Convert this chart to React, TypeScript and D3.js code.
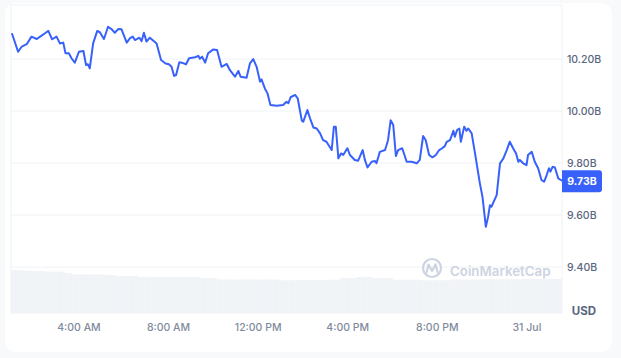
import React from "react";
import * as d3 from "d3";

// ---- data ----
const priceTimes: string[] = ["30 01:01","30 01:17","30 01:27","30 01:40","30 01:53","30 02:07","30 02:20","30 02:29","30 02:38","30 02:48","30 03:00","30 03:09","30 03:18","30 03:24","30 03:33","30 03:40","30 03:49","30 04:00","30 04:12","30 04:19","30 04:24","30 04:29","30 04:38","30 04:49","30 04:56","30 05:07","30 05:18","30 05:28","30 05:36","30 05:45","30 05:54","30 06:08","30 06:17","30 06:24","30 06:30","30 06:42","30 06:48","30 06:54","30 07:01","30 07:10","30 07:28","30 07:40","30 07:52","30 08:01","30 08:08","30 08:15","30 08:20","30 08:29","30 08:35","30 08:47","30 08:55","30 09:11","30 09:20","30 09:24","30 09:30","30 09:38","30 09:46","30 10:00","30 10:10","30 10:22","30 10:36","30 10:44","30 10:58","30 11:07","30 11:13","30 11:29","30 11:38","30 11:47","30 11:56","30 12:05","30 12:09","30 12:18","30 12:25","30 12:33","30 12:50","30 13:07","30 13:16","30 13:21","30 13:27","30 13:39","30 13:46","30 13:57","30 14:01","30 14:12","30 14:19","30 14:28","30 14:37","30 14:46","30 14:54","30 15:03","30 15:17","30 15:23","30 15:28","30 15:35","30 15:42","30 15:48","30 15:59","30 16:06","30 16:19","30 16:28","30 16:40","30 16:46","30 16:53","30 17:04","30 17:13","30 17:17","30 17:26","30 17:40","30 17:48","30 17:55","30 18:02","30 18:09","30 18:15","30 18:26","30 18:38","30 18:51","30 19:05","30 19:13","30 19:22","30 19:29","30 19:38","30 19:47","30 19:56","30 20:05","30 20:12","30 20:20","30 20:25","30 20:34","30 20:43","30 20:47","30 20:53","30 20:59","30 21:03","30 21:12","30 21:18","30 21:23","30 21:32","30 21:41","30 21:54","30 22:01","30 22:05","30 22:10","30 22:16","30 22:21","30 22:25","30 22:39","30 22:48","30 22:57","30 23:06","30 23:14","30 23:23","30 23:31","30 23:37","30 23:41","30 23:50","30 23:59","31 00:03","31 00:13","31 00:21","31 00:30","31 00:39","31 00:46","31 00:53","31 00:59","31 01:03","31 01:09","31 01:15","31 01:24","31 01:33"];

const priceValues: number[] = [10.296,10.228,10.248,10.257,10.286,10.277,10.290,10.299,10.308,10.276,10.286,10.260,10.263,10.222,10.222,10.203,10.186,10.228,10.231,10.177,10.180,10.164,10.260,10.308,10.303,10.277,10.324,10.314,10.301,10.315,10.314,10.263,10.280,10.286,10.273,10.282,10.269,10.301,10.267,10.282,10.260,10.196,10.183,10.180,10.170,10.135,10.138,10.188,10.186,10.180,10.203,10.207,10.212,10.201,10.209,10.186,10.222,10.237,10.235,10.170,10.181,10.158,10.132,10.154,10.132,10.128,10.183,10.200,10.170,10.113,10.122,10.087,10.068,10.023,10.020,10.023,10.036,10.030,10.053,10.062,10.049,9.963,9.959,10.004,9.972,9.937,9.933,9.914,9.888,9.882,9.850,9.940,9.940,9.818,9.837,9.831,9.857,9.831,9.812,9.809,9.850,9.812,9.783,9.805,9.808,9.799,9.843,9.850,9.888,9.965,9.946,9.827,9.850,9.857,9.805,9.805,9.799,9.812,9.904,9.888,9.831,9.822,9.831,9.850,9.856,9.865,9.881,9.888,9.924,9.901,9.927,9.933,9.882,9.940,9.924,9.933,9.914,9.837,9.722,9.670,9.619,9.555,9.593,9.638,9.632,9.677,9.799,9.818,9.850,9.882,9.857,9.837,9.805,9.812,9.799,9.792,9.831,9.843,9.805,9.780,9.735,9.728,9.754,9.780,9.767,9.786,9.783,9.741,9.733];

const volumeTimes: string[] = ["30 00:58","30 01:35","30 02:29","30 03:22","30 03:41","30 05:10","30 05:37","30 06:38","30 07:37","30 09:24","30 10:10","30 11:38","30 12:58","30 13:52","30 14:53","30 15:39","30 16:25","30 17:07","30 18:01","30 19:13","30 20:34","30 21:54","30 23:41","31 01:28"];
const volumeValues: number[] = [432,425,420,405,390,385,375,365,365,355,340,340,332,335,338,355,365,355,338,332,340,342,345,348];

const yTicks: number[] = [9.4, 9.6, 9.8, 10.0, 10.2];
const xTickTimes: string[] = ["30 04:00","30 08:00","30 12:00","30 16:00","30 20:00","31 00:00"];
const xTickLabels: string[] = ["4:00 AM","8:00 AM","12:00 PM","4:00 PM","8:00 PM","31 Jul"];
const domainStart = "30 00:58";
const domainEnd = "31 01:34";
const currentValue = 9.73;

const W = 621, H = 358;
const plot = { left: 11, right: 562, top: 5, bottom: 313 };
const BLUE = "#3861fb";
const FONT = "Inter, 'Noto Sans', sans-serif";

const parse = d3.timeParse("%d %H:%M");

export default function App() {
  const x = d3.scaleTime()
    .domain([parse(domainStart)!, parse(domainEnd)!])
    .range([plot.left, plot.right]);
  const y = d3.scaleLinear().domain([9.2235, 10.4077]).range([plot.bottom, plot.top]);
  const yVol = d3.scaleLinear().domain([0, 1000]).range([313.5, 213.5]);

  const n = Math.min(priceTimes.length, priceValues.length);
  const pts = d3.range(n).map(i => ({ t: parse(priceTimes[i])!, v: priceValues[i] }));
  const line = d3.line<{ t: Date; v: number }>().x(d => x(d.t)).y(d => y(d.v));

  const vpts = volumeTimes.map((s, i) => ({ t: parse(s)!, v: volumeValues[i] }));
  vpts.push({ t: parse(domainEnd)!, v: volumeValues[volumeValues.length - 1] });
  const area = d3.area<{ t: Date; v: number }>()
    .x(d => Math.min(plot.right, Math.max(plot.left, x(d.t))))
    .y0(yVol(0)).y1(d => yVol(d.v)).curve(d3.curveStepAfter);

  const cy = y(currentValue);

  return (
    <svg width={W} height={H} style={{ position: "absolute", left: 0, top: 0 }} fontFamily={FONT}>
      <defs>
        <pattern id="stripes" patternUnits="userSpaceOnUse" width={1.8} height={10}>
          <rect x={0} y={0} width={0.5} height={10} fill="#ffffff" opacity={0.55} />
        </pattern>
        <clipPath id="plotclip">
          <rect x={plot.left} y={plot.top} width={plot.right - plot.left} height={plot.bottom - plot.top} />
        </clipPath>
      </defs>
      <rect x={0} y={0} width={W} height={H} fill="#f8f9fb" />
      <rect x={5} y={3} width={607} height={349} rx={11} fill="#ffffff" />

      {/* grid */}
      {yTicks.map(t => (
        <line key={t} x1={plot.left} x2={plot.right} y1={y(t)} y2={y(t)} stroke="#eff2f5" strokeWidth={1} />
      ))}
      <rect x={plot.left} y={plot.top} width={plot.right - plot.left} height={plot.bottom - plot.top}
        fill="none" stroke="#eff2f5" strokeWidth={1} />

      {/* volume */}
      <g clipPath="url(#plotclip)">
        <path d={area(vpts) || ""} fill="#eef1f5" />
        <path d={area(vpts) || ""} fill="url(#stripes)" />
      </g>

      {/* watermark */}
      <g>
        <circle cx={432} cy={268} r={9} fill="none" stroke="#cdd4e1" strokeWidth={2.2} />
        <path d="M426.5,272.5 L428.5,264.5 L432,271 L435.5,264.5 L437.5,272" fill="none" stroke="#cdd4e1" strokeWidth={2.2} strokeLinejoin="round" strokeLinecap="round" />
        <text x={450} y={271} dominantBaseline="central" fontSize={13.3} fontWeight={600} fill="#cdd4e1">CoinMarketCap</text>
      </g>

      {/* price line */}
      <path d={line(pts) || ""} fill="none" stroke={BLUE} strokeWidth={2} strokeLinejoin="round" strokeLinecap="round" />

      {/* y labels */}
      {yTicks.map(t => (
        <text key={t} x={567} y={y(t)} dominantBaseline="central" fontSize={10.5} fontWeight={500} fill="#58667e">
          {t.toFixed(2)}B
        </text>
      ))}

      {/* current value badge */}
      <path d={`M${plot.right},${cy - 11} H${602 - 3} a3,3 0 0 1 3,3 V${cy + 8} a3,3 0 0 1 -3,3 H${plot.right} Z`} fill={BLUE} />
      <text x={582} y={cy} textAnchor="middle" dominantBaseline="central" fontSize={10.5} fontWeight={700} fill="#ffffff">
        {currentValue.toFixed(2)}B
      </text>

      <text x={584} y={311} textAnchor="middle" dominantBaseline="central" fontSize={11.5} fontWeight={700} fill="#58667e">USD</text>

      {/* x labels */}
      {xTickTimes.map((s, i) => (
        <text key={s} x={x(parse(s)!)} y={327} textAnchor="middle" dominantBaseline="central" fontSize={10.5} fontWeight={500} fill="#808a9d">
          {xTickLabels[i]}
        </text>
      ))}
    </svg>
  );
}
